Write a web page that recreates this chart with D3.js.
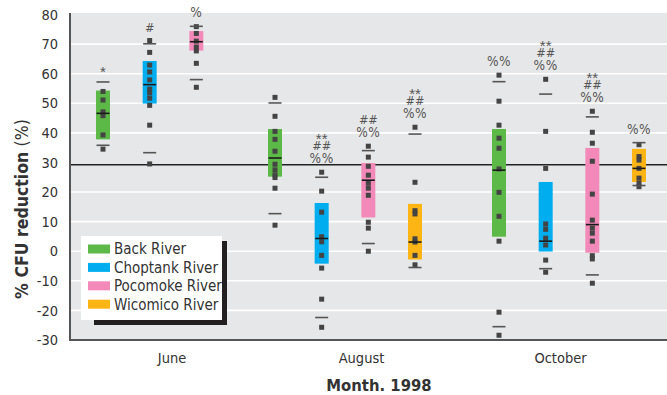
<!DOCTYPE html>
<html><head><meta charset="utf-8">
<script src="https://cdn.jsdelivr.net/npm/d3@7/dist/d3.min.js"></script>
<style>
html,body{margin:0;padding:0;background:#fff;}
svg{display:block;font-family:"DejaVu Sans Condensed","DejaVu Sans",sans-serif;}
</style></head>
<body><svg id="c" width="667" height="395"></svg>
<script>
// ---- data ----
const months = ["June", "August", "October"];
const rivers = ["Back River", "Choptank River", "Pocomoke River", "Wicomico River"];
const riverColors = ["#5cb947", "#00aeef", "#f389b8", "#fdb515"];
const yTicks = [-30, -20, -10, 0, 10, 20, 30, 40, 50, 60, 70, 80];
const referenceValue = 29.2;

const boxMonth = ["June","June","June","August","August","August","August","October","October","October","October"];
const boxRiver = ["Back River","Choptank River","Pocomoke River","Back River","Choptank River","Pocomoke River","Wicomico River","Back River","Choptank River","Pocomoke River","Wicomico River"];
const boxHigh   = [54.3, 64.3, 74.4, 41.3, 16.3, 29.8, 16.0, 41.3, 23.4, 34.9, 34.6];
const boxLow    = [37.8, 49.9, 67.8, 25.2, -4.2, 11.4, -2.8, 4.9, -0.1, -0.5, 23.4];
const medians   = [46.6, 56.3, 70.8, 31.5, 4.3, 24.0, 3.1, 27.4, 3.4, 9.0, 28.0];
const upperMark = [57.2, 70.1, 76.0, 50.1, 25.0, 34.0, 39.6, 57.3, 53.1, 45.4, 36.7];
const lowerMark = [35.8, 33.3, 58.0, 12.7, -22.4, 2.6, -5.5, -25.5, -5.9, -8.0, 22.2];
const pointValues = [
  [54.0, 51.1, 47.1, 45.8, 39.3, 34.5],
  [71.2, 67.2, 62.9, 60.6, 57.9, 54.8, 53.5, 51.7, 49.3, 42.6, 29.5],
  [75.9, 73.6, 71.0, 69.0, 67.7, 63.5, 55.4],
  [52.0, 45.6, 40.5, 37.8, 33.8, 29.4, 27.5, 25.8, 24.9, 21.3, 8.8],
  [26.7, 20.3, 13.2, 4.9, 3.2, -1.4, -5.7, -16.2, -25.7],
  [35.5, 31.8, 28.7, 25.7, 23.0, 21.3, 18.9, 9.8, 7.8, 0.0],
  [41.9, 23.3, 13.7, 12.6, 4.2, 3.1, -1.4, -4.6],
  [59.5, 50.7, 42.6, 38.2, 34.8, 27.8, 19.9, 11.8, 3.4, -20.6, -28.4],
  [58.1, 40.5, 28.0, 9.2, 7.4, 4.4, 2.1, -3.0, -7.1],
  [47.3, 40.2, 36.5, 30.4, 19.3, 10.5, 7.8, 6.1, 3.4, -1.5, -2.6, -10.8],
  [36.0, 32.0, 30.8, 28.0, 24.7, 23.0, 21.8]
];
const notes = [["*"], ["#"], ["%"], [], ["**","##","%%"], ["##","%%"], ["**","##","%%"], ["%%"], ["**","##","%%"], ["**","##","%%"], ["%%"]];
const xTitle = "Month. 1998";
const yTitle = "% CFU reduction";
const yTitleUnit = "(%)";

// ---- layout ----
const svg = d3.select("#c");
const plot = {left: 70, right: 667, top: 13, bottom: 340};
const y = d3.scaleLinear().domain([-30, 80]).range([340, 14.5]);
// group centres for the boxes, and for the month labels (the original places them slightly differently)
const xGroup = d3.scaleOrdinal().domain(months).range([173, 345, 569]);
const xLabel = d3.scaleOrdinal().domain(months).range([171.5, 361, 560]);
const xr = d3.scalePoint().domain(rivers).range([-70, 70]);
const color = d3.scaleOrdinal().domain(rivers).range(riverColors);
const bw = 14;
const cx = i => xGroup(boxMonth[i]) + xr(boxRiver[i]);

svg.append("rect").attr("x", plot.left).attr("y", plot.top)
  .attr("width", plot.right - plot.left).attr("height", plot.bottom - plot.top)
  .attr("fill", "#e6e7e8");

// gridlines
svg.append("g").selectAll("line").data(yTicks.filter(t => t > -30 && t < 80 && t !== 30)).join("line")
  .attr("x1", plot.left).attr("x2", plot.right)
  .attr("y1", d => y(d)).attr("y2", d => y(d))
  .attr("stroke", "#fff").attr("stroke-width", 1.6);

// reference line
svg.append("line").attr("x1", plot.left).attr("x2", plot.right)
  .attr("y1", y(referenceValue)).attr("y2", y(referenceValue))
  .attr("stroke", "#222").attr("stroke-width", 1.5);

// y axis
const yAxis = d3.axisLeft(y).tickValues(yTicks).tickFormat(d => String(d)).tickSize(0).tickPadding(12);
const gy = svg.append("g").attr("transform", `translate(${plot.left},0)`).call(yAxis);
gy.select(".domain").remove();
gy.selectAll("text").attr("font-size", 14.5).attr("fill", "#333")
  .attr("font-family", "'DejaVu Sans Condensed','DejaVu Sans',sans-serif");

// x axis
const xAxis = d3.axisBottom(xLabel).tickSize(0).tickPadding(0);
const gx = svg.append("g").attr("transform", `translate(0,${plot.bottom})`).call(xAxis);
gx.select(".domain").remove();
gx.selectAll("text").attr("font-size", 14.5).attr("fill", "#333").attr("dy", null).attr("y", 23)
  .attr("font-family", "'DejaVu Sans Condensed','DejaVu Sans',sans-serif");

// axis lines
svg.append("line").attr("x1", plot.left).attr("x2", plot.left).attr("y1", plot.top).attr("y2", plot.bottom + 1)
  .attr("stroke", "#555").attr("stroke-width", 2);
svg.append("line").attr("x1", plot.left).attr("x2", plot.right).attr("y1", plot.bottom).attr("y2", plot.bottom)
  .attr("stroke", "#555").attr("stroke-width", 2);

// boxes
const idx = d3.range(boxMonth.length);
const g = svg.append("g");
g.selectAll("rect.box").data(idx).join("rect").attr("class", "box")
  .attr("x", i => cx(i) - bw / 2).attr("width", bw)
  .attr("y", i => y(boxHigh[i])).attr("height", i => y(boxLow[i]) - y(boxHigh[i]))
  .attr("fill", i => color(boxRiver[i]));

// points
idx.forEach(i => {
  g.selectAll(null).data(pointValues[i]).join("rect")
    .attr("x", cx(i) - 2.5).attr("y", v => y(v) - 2.5)
    .attr("width", 5).attr("height", 5).attr("fill", "#444");
});

// whisker marks and medians
const mark = (cls, arr, col) => g.selectAll("line." + cls).data(idx).join("line").attr("class", cls)
  .attr("x1", i => cx(i) - 6.5).attr("x2", i => cx(i) + 6.5)
  .attr("y1", i => y(arr[i])).attr("y2", i => y(arr[i]))
  .attr("stroke", col).attr("stroke-width", 1.6);
mark("up", upperMark, "#555");
mark("lo", lowerMark, "#555");
mark("med", medians, "#1a1a1a");

// significance annotations
idx.forEach(i => {
  const top = Math.min(y(upperMark[i]), y(d3.max(pointValues[i])));
  const n = notes[i].length;
  notes[i].forEach((t, k) => {
    const fromBottom = n - 1 - k;
    const isPct = t.indexOf("%") >= 0;
    const isStar = t.indexOf("*") >= 0;
    const base = top - 9 - (fromBottom === 0 ? 0 : 13 + (fromBottom - 1) * 10.5) + (isStar ? 4 : 0);
    svg.append("text").attr("x", cx(i)).attr("y", base)
      .attr("text-anchor", "middle").attr("font-size", isPct ? 13.5 : (isStar ? 15 : 12.5))
      .attr("font-family", isStar ? "'Liberation Sans',sans-serif" : "'DejaVu Sans Condensed','DejaVu Sans',sans-serif")
      .attr("fill", "#555").attr("letter-spacing", isPct ? 0.5 : 0)
      .text(t);
  });
});

// legend
const lg = svg.append("g");
lg.append("rect").attr("x", 94).attr("y", 241).attr("width", 133).attr("height", 84).attr("fill", "#231f20");
lg.append("rect").attr("x", 81).attr("y", 236).attr("width", 141).attr("height", 84).attr("fill", "#fff");
rivers.forEach((r, k) => {
  const yy = 249 + k * 18.4;
  lg.append("rect").attr("x", 88).attr("y", yy - 4.5).attr("width", 22).attr("height", 9).attr("fill", color(r));
  lg.append("text").attr("x", 114).attr("y", yy).attr("dy", "0.36em")
    .attr("font-size", 15).attr("fill", "#333").text(r);
});

// titles
svg.append("text").attr("x", 379).attr("y", 391).attr("text-anchor", "middle")
  .attr("font-size", 16.5).attr("font-weight", "bold").attr("fill", "#333").text(xTitle);
const yt = svg.append("text").attr("transform", "translate(28,209) rotate(-90)")
  .attr("text-anchor", "middle").attr("font-size", 17.5).attr("fill", "#333");
yt.append("tspan").attr("font-weight", "bold").text(yTitle + " ");
yt.append("tspan").text(yTitleUnit);
</script></body></html>
